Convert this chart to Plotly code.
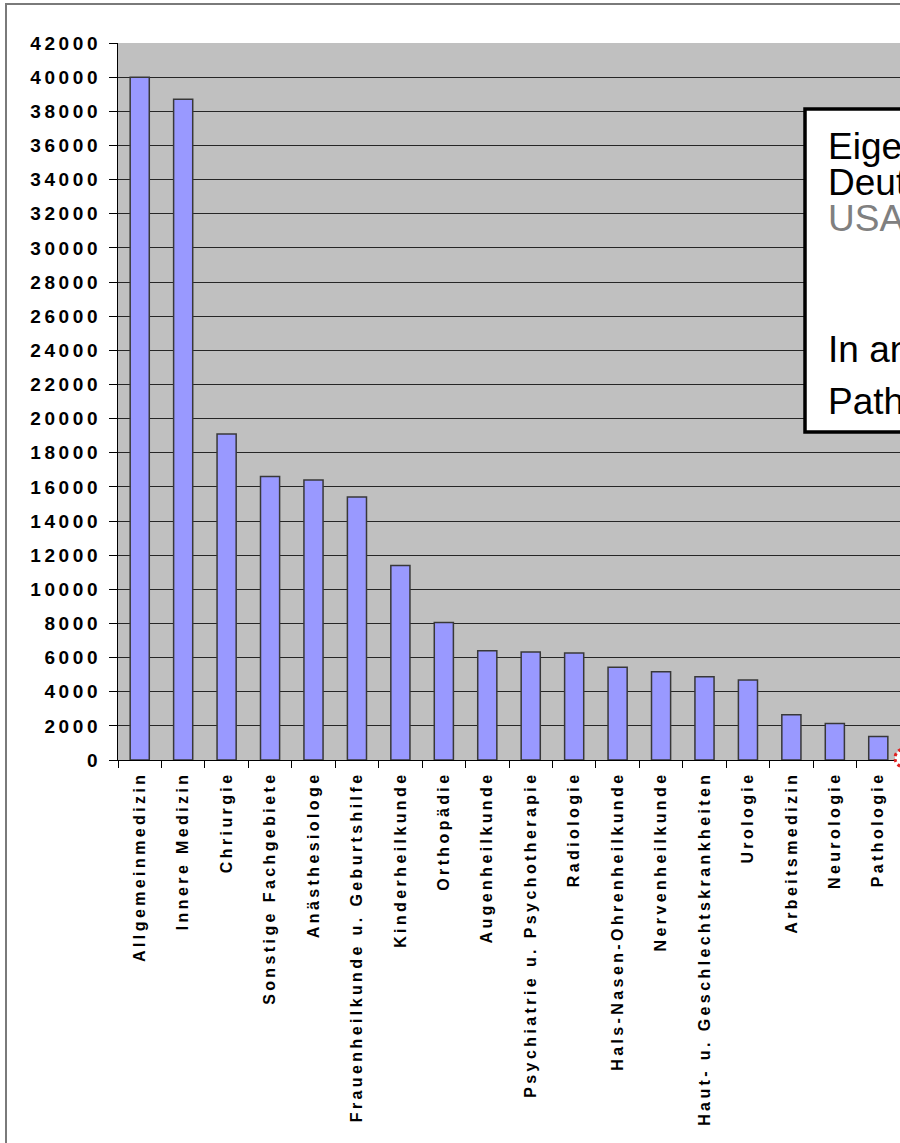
import plotly.graph_objects as go

# Number of physicians per specialty
categories = [
    "Allgemeinmedizin", "Innere Medizin", "Chriurgie", "Sonstige Fachgebiete",
    "Anästhesiologe", "Frauenheilkunde u. Geburtshilfe", "Kinderheilkunde",
    "Orthopädie", "Augenheilkunde", "Psychiatrie u. Psychotherapie",
    "Radiologie", "Hals-Nasen-Ohrenheilkunde", "Nervenheilkunde",
    "Haut- u. Geschlechtskrankheiten", "Urologie", "Arbeitsmedizin",
    "Neurologie", "Pathologie",
]
values = [40000, 38700, 19100, 16600, 16400, 15400, 11400, 8050, 6400,
          6330, 6270, 5430, 5170, 4880, 4680, 2650, 2140, 1380]
y_ticks = list(range(0, 42001, 2000))

# Note box lines (second entry: text colour)
note_lines = [
    ("Eigene Darstellung", "#000000"),
    ("Deutschland", "#000000"),
    ("USA", "#808080"),
    ("In anderen Ländern", "#000000"),
    ("Pathologie", "#000000"),
]

W, H = 900, 1143
ML, MR, MT, MB = 118, 0, 43, 383
PW, PH = W - ML - MR, H - MT - MB


def px(x):
    return (x - ML) / PW


def py(y):
    return (H - MB - y) / PH


fig = go.Figure()
fig.add_trace(go.Bar(
    x=categories, y=values,
    marker=dict(color="#9999FF", line=dict(color="#383838", width=1.5)),
))

shapes = [
    # outer frame
    dict(type="rect", xref="paper", yref="paper",
         x0=px(6), x1=px(960), y0=py(1200), y1=py(4),
         line=dict(color="#7a7a7a", width=2), fillcolor="rgba(0,0,0,0)", layer="below"),
    # note box
    dict(type="rect", xref="paper", yref="paper",
         x0=px(805), x1=px(1000), y0=py(432), y1=py(109),
         line=dict(color="#000000", width=3.5), fillcolor="#FFFFFF", layer="above"),
    # red marker at the lower right corner
    dict(type="circle", xref="paper", yref="paper",
         x0=px(895), x1=px(913), y0=py(767), y1=py(749),
         line=dict(color="#E02020", width=3, dash="dot"), fillcolor="#FFFFFF"),
]

annotations = []
line_y = [146, 182, 219, 350, 401]
for (txt, col), yy in zip(note_lines, line_y):
    annotations.append(dict(
        xref="paper", yref="paper", x=px(826), y=py(yy),
        xanchor="left", yanchor="middle", showarrow=False,
        text=txt, font=dict(family="Liberation Sans, Arial", size=37, color=col),
    ))

fig.update_layout(
    width=W, height=H,
    margin=dict(l=ML, r=MR, t=MT, b=MB, pad=0),
    paper_bgcolor="#FFFFFF", plot_bgcolor="#C0C0C0",
    bargap=0.56, showlegend=False,
    shapes=shapes, annotations=annotations,
)
fig.update_xaxes(
    range=[-0.5, len(categories) - 0.5],
    tickangle=-90, tickson="boundaries", ticks="outside", ticklen=7,
    tickcolor="#000000", tickwidth=1.2,
    showline=True, linecolor="#000000", linewidth=1.2,
    showgrid=False, ticklabelstandoff=4, automargin=False,
    tickfont=dict(family="Liberation Sans, Arial", size=16, color="#000000", weight="bold"),
)
fig.update_yaxes(
    range=[0, 42000], tickvals=y_ticks, ticktext=[str(v) for v in y_ticks],
    ticks="outside", ticklen=8, tickcolor="#000000", tickwidth=1.2,
    showline=True, linecolor="#000000", linewidth=1.2,
    showgrid=True, gridcolor="#262626", gridwidth=1.3, zeroline=False,
    ticklabelstandoff=4, automargin=False,
    tickfont=dict(family="Liberation Sans, Arial", size=19, color="#000000", weight="bold"),
)

# widen the tick label lettering once the plot is drawn
spacing_js = """
var gd = document.getElementById('{plot_id}');
gd.querySelectorAll('.xtick text').forEach(function (t) { t.style.letterSpacing = '3.4px'; });
gd.querySelectorAll('.ytick text').forEach(function (t) { t.style.letterSpacing = '3.6px'; });
"""

fig.write_html("out.html", post_script=spacing_js)
